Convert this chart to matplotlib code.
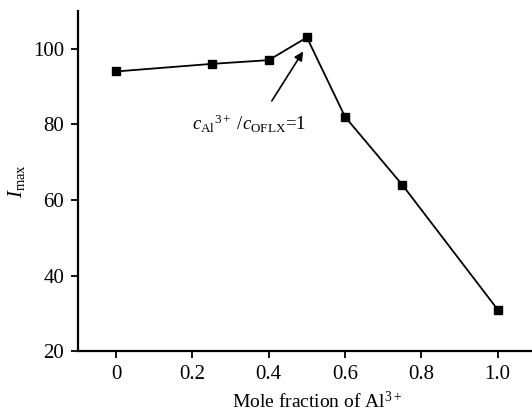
import matplotlib
matplotlib.use("Agg")
import matplotlib.pyplot as plt

plt.rcParams['font.family'] = ['Liberation Serif', 'DejaVu Serif']
plt.rcParams['mathtext.fontset'] = 'custom'
plt.rcParams['mathtext.rm'] = 'Liberation Serif'
plt.rcParams['mathtext.it'] = 'Liberation Serif:italic'

# data
mole_fraction = [0, 0.25, 0.4, 0.5, 0.6, 0.75, 1.0]
i_max = [94, 96, 97, 103, 82, 64, 31]
x_ticks = [0, 0.2, 0.4, 0.6, 0.8, 1.0]
x_labels = ['0', '0.2', '0.4', '0.6', '0.8', '1.0']
y_ticks = [20, 40, 60, 80, 100]

fig = plt.figure(figsize=(5.32, 4.15), dpi=100)
ax = fig.add_axes([0.1466, 0.154, 0.8534, 0.8195])

ax.plot(mole_fraction, i_max, color='black', lw=1.3, marker='s', ms=6)

ax.set_xlim(-0.1, 1.09)
ax.set_ylim(20, 110)
ax.set_xticks(x_ticks)
ax.set_xticklabels(x_labels)
ax.set_yticks(y_ticks)
ax.tick_params(direction='out', length=5, width=1.3, labelsize=15, pad=5)
for s in ['top', 'right']:
    ax.spines[s].set_visible(False)
for s in ['left', 'bottom']:
    ax.spines[s].set_linewidth(1.6)

ax.set_xlabel('Mole fraction of Al$^{3+}$', fontsize=14)
ax.xaxis.set_label_coords(0.526, -0.118)
ax.set_ylabel('$I_{\\mathrm{max}}$', fontsize=15, labelpad=4)

ax.text(0.199, 78.5, '$c_{\\mathrm{Al}}$$^{3+}$ /$c_{\\mathrm{OFLX}}$=1',
        fontsize=13.5, ha='left', va='baseline')
ax.annotate('', xy=(0.49, 99.3), xytext=(0.408, 86.2),
            arrowprops=dict(arrowstyle='-|>', color='black', lw=1.2,
                            mutation_scale=13, shrinkA=0, shrinkB=0))

fig.savefig('out.png', dpi=100)
